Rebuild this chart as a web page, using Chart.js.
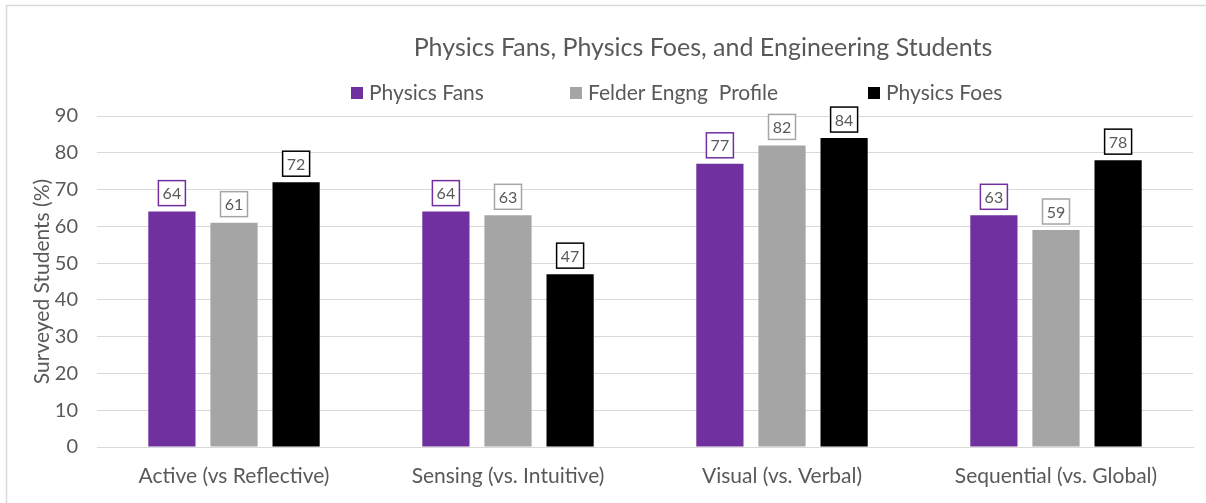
<!DOCTYPE html>
<html>
<head>
<meta charset="utf-8">
<script src="https://cdn.jsdelivr.net/npm/chart.js@4"></script>
<style>
  html, body { margin: 0; padding: 0; background: #fff; }
  #wrap { width: 1206px; height: 503px; position: relative; }
</style>
</head>
<body>
<div id="wrap"><canvas id="chart"></canvas></div>
<script>
// data
const categories = [
  'Active (vs Reflective)',
  'Sensing (vs. Intuitive)',
  'Visual (vs. Verbal)',
  'Sequential (vs. Global)',
];
const physicsFans = [64, 64, 77, 63];
const felderProfile = [61, 63, 82, 59];
const physicsFoes = [72, 47, 84, 78];
const yTicks = [0, 10, 20, 30, 40, 50, 60, 70, 80, 90];

const TEXT = '#595959';
const FONT = 'Lato';

// frame, title, legend and boxed value labels
const decorations = {
  id: 'decorations',
  beforeDraw(chart) {
    const ctx = chart.ctx;
    ctx.save();
    ctx.strokeStyle = '#d9d9d9';
    ctx.lineWidth = 1.5;
    ctx.strokeRect(6.5, 5.5, 1220, 520);
    ctx.restore();
  },
  afterDatasetsDraw(chart) {
    const ctx = chart.ctx;
    ctx.save();

    // title
    ctx.fillStyle = TEXT;
    ctx.font = `25px "${FONT}"`;
    ctx.textAlign = 'center';
    ctx.textBaseline = 'middle';
    ctx.fillText('Physics Fans, Physics Foes, and Engineering Students', 703, 48);

    // legend
    const legendX = [351, 570, 868];
    ctx.font = `21px "${FONT}"`;
    ctx.textAlign = 'left';
    chart.data.datasets.forEach((ds, i) => {
      ctx.fillStyle = ds.backgroundColor;
      ctx.fillRect(legendX[i], 87, 12, 12);
      ctx.fillStyle = TEXT;
      ctx.fillText(ds.label, legendX[i] + 18, 93);
    });

    // value labels
    ctx.font = `16px "${FONT}"`;
    ctx.textAlign = 'center';
    chart.data.datasets.forEach((ds, i) => {
      chart.getDatasetMeta(i).data.forEach((bar, j) => {
        const w = 27, h = 25;
        const x = bar.x - w / 2;
        const y = bar.y - 6 - h;
        ctx.fillStyle = '#fff';
        ctx.fillRect(x, y, w, h);
        ctx.strokeStyle = ds.backgroundColor;
        ctx.lineWidth = 1.5;
        ctx.strokeRect(x, y, w, h);
        ctx.fillStyle = TEXT;
        ctx.fillText(String(ds.data[j]), bar.x, y + h / 2 + 1);
      });
    });
    ctx.restore();
  },
};

const data = {
  labels: categories,
  datasets: [
    { label: 'Physics Fans', data: physicsFans, backgroundColor: '#7030A0' },
    { label: 'Felder Engng  Profile', data: felderProfile, backgroundColor: '#A5A5A5' },
    { label: 'Physics Foes', data: physicsFoes, backgroundColor: '#000000' },
  ],
};

const config = {
  type: 'bar',
  data,
  options: {
    responsive: true,
    maintainAspectRatio: false,
    animation: false,
    datasets: {
      bar: { categoryPercentage: 0.68, barPercentage: 0.76 },
    },
    layout: { padding: { top: 116, right: 13, left: 0, bottom: 0 } },
    plugins: {
      legend: { display: false },
      title: { display: false },
      tooltip: { enabled: false },
    },
    scales: {
      x: {
        grid: { display: false },
        border: { color: '#d9d9d9' },
        ticks: { color: TEXT, font: { family: FONT, size: 21 }, padding: 9 },
        afterFit(scale) { scale.height = 56; },
      },
      y: {
        min: 0,
        max: 90,
        afterBuildTicks(scale) { scale.ticks = yTicks.map(v => ({ value: v })); },
        grid: { color: '#d9d9d9', drawTicks: false },
        border: { display: false },
        ticks: { color: TEXT, font: { family: FONT, size: 20 }, padding: 19 },
        title: {
          display: true,
          text: 'Surveyed Students (%)',
          color: TEXT,
          font: { family: FONT, size: 21 },
          padding: { top: 30, bottom: 0 },
        },
        afterFit(scale) { scale.width = 97; },
      },
    },
  },
  plugins: [decorations],
};

new Chart(document.getElementById('chart'), config);
</script>
</body>
</html>
